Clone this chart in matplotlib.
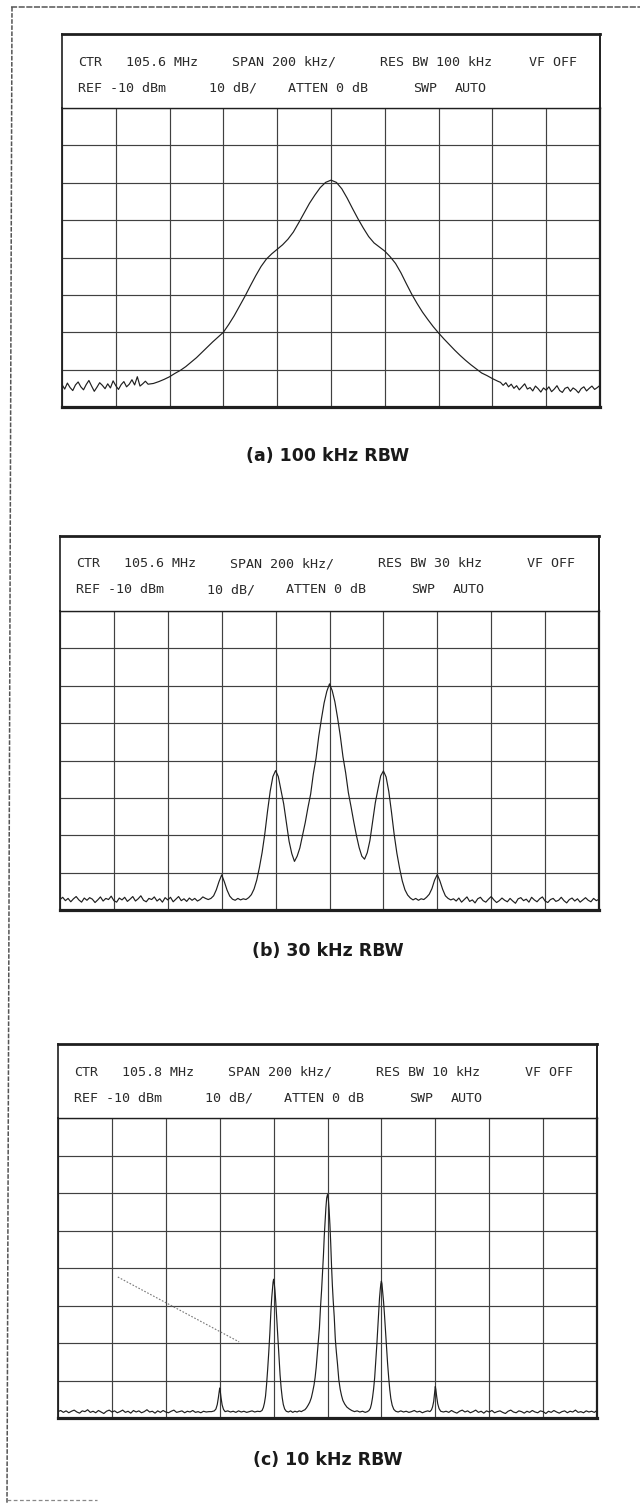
import numpy as np
import matplotlib
matplotlib.use("Agg")
import matplotlib.pyplot as plt
from matplotlib.lines import Line2D

# ------------------------------------------------------------------ data
SPAN_KHZ = (-1000, 1000)        # 200 kHz/div, 10 divisions
REF_DBM = -10                   # top graticule line
DB_PER_DIV = 10
N_XDIV, N_YDIV = 10, 8

HEADER_L1 = [
    ["CTR", "105.6 MHz", "SPAN 200 kHz/", "RES BW 100 kHz", "VF OFF"],
    ["CTR", "105.6 MHz", "SPAN 200 kHz/", "RES BW 30 kHz", "VF OFF"],
    ["CTR", "105.8 MHz", "SPAN 200 kHz/", "RES BW 10 kHz", "VF OFF"],
]
HEADER_L2 = [
    ["REF -10 dBm", "10 dB/", "ATTEN 0 dB", "SWP", "AUTO"],
    ["REF -10 dBm", "10 dB/", "ATTEN 0 dB", "SWP", "AUTO"],
    ["REF -10 dBm", "10 dB/", "ATTEN 0 dB", "SWP", "AUTO"],
]
CAPTIONS = ["(a) 100 kHz RBW", "(b) 30 kHz RBW", "(c) 10 kHz RBW"]

# (a) 100 kHz RBW trace, dBm
A_NOISE_L = [-84.0, -85.2, -83.6, -84.8, -85.6, -84.1, -83.3, -84.6, -85.4, -84.0,
             -82.9, -84.4, -85.8, -84.7, -83.5, -84.2, -85.1, -83.8, -84.9, -83.0,
             -84.3, -85.3, -84.0, -83.2, -84.6, -83.9, -82.7, -84.1, -81.9, -84.4,
             -83.8, -83.1, -83.9]                       # -1000 .. -680 kHz
A_MAIN = [-83.7, -83.2, -82.6, -81.9, -81.0, -80.2, -79.2, -78.0, -76.8, -75.4,
          -74.0, -72.6, -71.3, -70.0, -67.9, -65.6, -63.0, -60.4, -57.6, -54.9,
          -52.4, -50.4, -49.0, -47.8, -46.6, -45.1, -43.2, -40.7, -38.1, -35.5,
          -33.3, -31.3, -29.9, -29.3, -29.9, -31.6, -34.1, -36.9, -39.6, -42.1,
          -44.4, -46.1, -47.2, -48.3, -49.8, -51.6, -54.1, -57.0, -59.8, -62.3,
          -64.6, -66.6, -68.5, -70.2, -71.8, -73.3, -74.8, -76.2, -77.5, -78.7,
          -79.8, -80.9, -81.6, -82.4, -83.1]             # -660 .. 620 kHz
A_NOISE_R = [-83.4, -84.2, -83.5, -84.6, -83.9, -85.0, -84.3, -85.4, -84.6, -83.8,
             -85.2, -84.8, -85.7, -84.4, -85.1, -86.0, -84.9, -85.5, -84.6, -85.9,
             -85.2, -84.3, -85.6, -86.1, -85.0, -84.7, -85.8, -84.9, -85.4, -86.2,
             -85.1, -84.6, -85.7, -85.0, -84.4, -85.3, -84.8, -84.2]  # 630 .. 1000 kHz

# (b) 30 kHz RBW trace, dBm
B_NOISE_L = [-87.2, -86.6, -87.5, -86.9, -87.8, -87.0, -86.4, -87.3, -87.9, -86.8,
             -87.4, -86.7, -87.1, -88.0, -87.3, -86.5, -87.6, -86.9, -87.2, -86.3,
             -87.5, -87.9, -86.8, -87.3, -86.6, -87.7, -87.1, -86.4, -87.6, -87.0,
             -86.2, -87.4, -87.8, -86.9, -87.2, -86.5, -87.6, -87.0, -87.9, -86.7,
             -87.3, -86.6, -87.8, -87.1, -86.4, -87.5, -87.0, -87.7, -86.8, -87.4,
             -86.9, -87.6, -87.2, -86.5, -86.9]         # -1000 .. -460 kHz
B_MAIN = [-87.2, -86.9, -86.2, -84.6, -82.4, -80.6, -82.5, -84.7, -86.3, -87.1,
          -87.4, -86.9, -87.3, -87.0, -87.2, -86.7, -85.9, -84.4, -82.0, -78.6,
          -74.6, -69.6, -63.6, -58.2, -54.3, -52.7, -54.3, -57.9, -61.6, -66.6,
          -71.6, -74.9, -77.0, -75.6, -73.4, -70.0, -66.6, -62.6, -59.0, -53.6,
          -49.4, -43.6, -38.9, -34.6, -31.5, -29.5, -31.3, -34.3, -38.6, -43.4,
          -49.0, -53.3, -58.6, -62.4, -66.4, -70.1, -73.3, -75.6, -76.4, -74.7,
          -71.4, -66.4, -61.3, -57.6, -54.1, -52.8, -54.4, -58.3, -63.8, -69.8,
          -74.8, -78.8, -82.2, -84.6, -86.0, -86.8, -87.3, -86.9, -87.4, -87.0,
          -87.2, -86.6, -85.8, -84.3, -82.0, -80.5, -82.3, -84.5, -86.2, -86.9,
          -87.3]                                        # -450 .. 450 kHz
B_NOISE_R = [-87.0, -87.6, -86.8, -87.9, -87.2, -86.5, -87.7, -87.3, -88.1, -87.0,
             -86.6, -87.5, -87.9, -87.1, -86.4, -87.3, -88.0, -87.5, -86.8, -87.4,
             -87.8, -86.9, -87.6, -88.2, -87.0, -86.7, -87.5, -87.1, -87.9, -86.6,
             -87.3, -87.8, -87.0, -86.5, -87.6, -88.0, -87.2, -86.9, -87.7, -87.4,
             -86.6, -87.5, -88.1, -87.2, -86.8, -87.6, -87.0, -87.9, -87.3, -86.7,
             -87.4, -87.8, -86.9, -87.5, -87.1]         # 460 .. 1000 kHz

# (c) 10 kHz RBW trace, dBm
C_NOISE_L = [-88.3, -88.0, -88.5, -88.1, -88.6, -88.2, -87.9, -88.4, -88.7, -88.1,
             -88.3, -87.8, -88.5, -88.2, -88.6, -88.0, -88.4, -88.8, -88.2, -87.9,
             -88.4, -88.1, -88.6, -88.3, -87.9, -88.5, -88.2, -88.7, -88.0, -88.4,
             -88.1, -88.6, -88.3, -87.8, -88.4, -88.2, -88.7, -88.1, -88.5, -88.0,
             -88.4, -88.6, -88.2, -87.9, -88.5, -88.3, -88.1, -88.6, -88.2, -88.4,
             -88.0, -88.5, -88.3, -88.6, -88.2, -88.4, -88.3]  # -1000 .. -440 kHz
C_MID_KHZ = [-430, -420, -414, -409, -405, -402, -400, -398, -395, -391, -386, -380,
             -370, -360, -350, -340, -330, -320, -310, -300, -290, -280, -270, -260,
             -250, -243, -238, -234, -230, -226, -222, -218, -214, -210, -207, -204,
             -202, -200, -198, -195, -192, -188, -184, -180, -176, -172, -168, -164,
             -159, -153, -145, -137, -129, -121, -113, -105, -97, -90, -84, -78,
             -72, -66, -60, -55, -50, -46, -42, -38, -34, -30, -26, -22,
             -18, -15, -12, -9, -6, -3, 0, 3, 6, 9, 12, 15,
             18, 21, 25, 29, 33, 37, 42, 47, 52, 57, 64, 72,
             81, 90, 100, 110, 120, 130, 140, 148, 154, 159, 163, 167,
             171, 175, 179, 183, 187, 190, 193, 196, 198, 200, 202, 205,
             208, 211, 215, 219, 223, 227, 231, 235, 240, 246, 253, 262,
             272, 282, 292, 302, 312, 322, 332, 342, 352, 362, 372, 380,
             386, 390, 394, 397, 400, 402, 405, 409, 414, 420, 430]
C_MID_DBM = [-88.3, -88.1, -87.6, -86.4, -84.6, -83.0, -82.0, -82.8, -84.6, -86.5, -87.7, -88.3,
             -88.1, -88.4, -88.2, -88.5, -88.1, -88.4, -88.2, -88.5, -88.3, -88.1, -88.4, -88.2,
             -88.3, -88.0, -87.2, -86.0, -84.2, -81.0, -77.0, -72.5, -67.5, -61.5, -58.0, -55.3,
             -53.8, -53.0, -53.8, -56.0, -59.0, -64.0, -69.5, -74.5, -78.5, -82.0, -84.6, -86.4,
             -87.6, -88.2, -88.4, -88.1, -88.5, -88.2, -88.4, -88.1, -88.3, -88.0, -87.8, -87.3,
             -86.6, -85.8, -84.6, -83.0, -81.2, -79.2, -76.5, -73.0, -69.5, -66.0, -60.5, -56.0,
             -50.5, -46.5, -41.5, -37.5, -34.0, -31.3, -30.4, -31.5, -34.5, -38.5, -43.5, -49.5,
             -54.5, -58.5, -63.0, -69.0, -72.5, -75.5, -79.8, -82.3, -84.0, -85.3, -86.3, -87.1,
             -87.6, -88.0, -88.3, -88.1, -88.4, -88.2, -88.5, -88.3, -88.0, -87.4, -86.3, -84.6,
             -82.3, -79.3, -75.0, -70.5, -65.5, -61.5, -58.0, -55.5, -54.2, -53.5, -54.2, -56.5,
             -59.0, -62.0, -66.5, -71.0, -75.5, -79.2, -82.4, -84.8, -86.6, -87.7, -88.2, -88.4,
             -88.1, -88.4, -88.2, -88.5, -88.3, -88.0, -88.4, -88.2, -88.6, -88.3, -88.1, -88.3,
             -87.8, -87.0, -85.6, -83.6, -81.6, -82.4, -84.2, -86.2, -87.5, -88.2, -88.4]
C_NOISE_R = [-88.2, -88.5, -88.0, -88.4, -88.7, -88.2, -87.9, -88.4, -88.1, -88.6,
             -88.3, -87.9, -88.5, -88.2, -88.7, -88.1, -88.4, -88.0, -88.6, -88.3,
             -88.1, -88.5, -88.8, -88.2, -87.9, -88.4, -88.6, -88.1, -88.3, -88.7,
             -88.2, -88.5, -88.0, -88.4, -88.6, -88.1, -88.3, -88.8, -88.2, -88.5,
             -88.0, -88.4, -88.7, -88.3, -88.1, -88.6, -88.2, -88.4, -87.9, -88.5,
             -88.3, -88.6, -88.1, -88.4, -88.2, -88.5, -88.0]  # 440 .. 1000 kHz

# pencil stroke on plot (c): kHz, dBm end points
C_STROKE_KHZ = [-778, -328]
C_STROKE_DBM = [-52.4, -69.7]


def sweep(segments):
    """segments: list of (start_kHz, stop_kHz, values) on a uniform sweep."""
    f, v = [], []
    for a, b, vals in segments:
        f.append(np.linspace(a, b, len(vals)))
        v.append(np.asarray(vals, float))
    return np.concatenate(f), np.concatenate(v)


TRACES = [
    sweep([(-1000, -680, A_NOISE_L), (-660, 620, A_MAIN), (630, 1000, A_NOISE_R)]),
    sweep([(-1000, -460, B_NOISE_L), (-450, 450, B_MAIN), (460, 1000, B_NOISE_R)]),
    (np.concatenate([np.linspace(-1000, -440, len(C_NOISE_L)), C_MID_KHZ,
                     np.linspace(440, 1000, len(C_NOISE_R))]),
     np.concatenate([C_NOISE_L, C_MID_DBM, C_NOISE_R])),
]

# ------------------------------------------------------------------ layout (pixels)
W, H = 640, 1503
# left, right, header top, grid top, grid bottom, caption y
LAYOUT = [
    (62, 600, 34, 108, 407, 456),
    (60, 599, 536, 611, 910, 951),
    (58, 597, 1044, 1118, 1418, 1460),
]
L1_OFF = [16, 64, 170, 318, 467]
L2_OFF = [16, 147, 226, 351, 393]

INK = "#1f1f1f"
GRID = "#404040"

fig = plt.figure(figsize=(W / 100, H / 100), dpi=100)
fig.patch.set_facecolor("white")


def fx(x):
    return x / W


def fy(y):
    return 1 - y / H


# outer page frame (left, top, and a short bottom piece)
fig.add_artist(Line2D([fx(12), fx(7)], [fy(7), fy(1503)], color="#555555", lw=1.1,
                      ls=(0, (3, 1)), transform=fig.transFigure))
fig.add_artist(Line2D([fx(11), fx(640)], [fy(7), fy(7)], color="#555555", lw=1.1,
                      ls=(0, (4, 1)), transform=fig.transFigure))
fig.add_artist(Line2D([fx(7), fx(97)], [fy(1500), fy(1500)], color="#888888", lw=0.9,
                      ls=(0, (3, 2)), transform=fig.transFigure))

for i, (L, R, T, G, B, CY) in enumerate(LAYOUT):
    # header box
    hx = fig.add_axes([fx(L), fy(G), fx(R) - fx(L), fy(T) - fy(G)])
    hx.set_xticks([])
    hx.set_yticks([])
    hx.patch.set_alpha(0)
    hx.spines["bottom"].set_visible(False)
    hx.spines["top"].set_linewidth(2.0)
    hx.spines["left"].set_linewidth(1.2)
    hx.spines["right"].set_linewidth(1.4)
    for s in hx.spines.values():
        s.set_color(INK)

    for off, s in zip(L1_OFF, HEADER_L1[i]):
        fig.text(fx(L + off), fy(T + 28), s, ha="left", va="center",
                 family="DejaVu Sans Mono", fontsize=9.6, color="#2a2a2a")
    for off, s in zip(L2_OFF, HEADER_L2[i]):
        fig.text(fx(L + off), fy(T + 54), s, ha="left", va="center",
                 family="DejaVu Sans Mono", fontsize=9.6, color="#2a2a2a")

    # graticule
    ax = fig.add_axes([fx(L), fy(B), fx(R) - fx(L), fy(G) - fy(B)])
    bottom_db = REF_DBM - N_YDIV * DB_PER_DIV
    ax.set_xlim(*SPAN_KHZ)
    ax.set_ylim(bottom_db, REF_DBM)
    ax.set_xticks(np.linspace(SPAN_KHZ[0], SPAN_KHZ[1], N_XDIV + 1))
    ax.set_yticks(np.linspace(bottom_db, REF_DBM, N_YDIV + 1))
    ax.tick_params(length=0, labelbottom=False, labelleft=False)
    ax.grid(True, color=GRID, lw=0.85)
    ax.set_axisbelow(True)
    ax.spines["bottom"].set_linewidth(2.3)
    ax.spines["left"].set_linewidth(1.3)
    ax.spines["right"].set_linewidth(1.6)
    ax.spines["top"].set_linewidth(1.0)
    for s in ax.spines.values():
        s.set_color(INK)

    f, v = TRACES[i]
    ax.plot(f, v, color=INK, lw=0.85)

    if i == 2:
        ax.plot(C_STROKE_KHZ, C_STROKE_DBM, color="#777777", lw=0.8,
                ls=(0, (1.5, 1.5)))

    fig.text(fx(328), fy(CY), CAPTIONS[i], ha="center", va="center",
             family="DejaVu Sans", weight="bold", fontsize=12.5, color="#1a1a1a")

fig.savefig("out.png", dpi=100, facecolor="white")
